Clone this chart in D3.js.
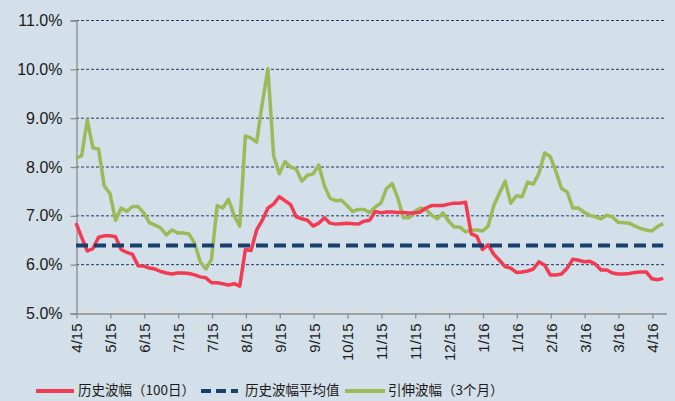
<!DOCTYPE html>
<html>
<head>
<meta charset="utf-8">
<script src="https://cdn.jsdelivr.net/npm/d3@7"></script>
<style>
  body { margin: 0; background: #d3dfe9; }
  svg { display: block; }
</style>
</head>
<body>
<svg id="chart" width="675" height="401"></svg>
<script>
// chart data
var Y_TICKS = [5, 6, 7, 8, 9, 10, 11];
var X_TICK_LABELS = ["4/15", "5/15", "6/15", "7/15", "7/15", "8/15", "9/15", "9/15", "10/15",
    "11/15", "11/15", "12/15", "1/16", "1/16", "2/16", "3/16", "3/16", "4/16"];
var TICK_EVERY = 6; // data points between two x labels

var HIST_VOL = [6.84, 6.55, 6.27, 6.32, 6.55, 6.58, 6.58, 6.56, 6.30, 6.24,
    6.20, 5.97, 5.96, 5.92, 5.90, 5.85, 5.82, 5.80, 5.82, 5.82,
    5.81, 5.78, 5.74, 5.72, 5.62, 5.62, 5.60, 5.57, 5.60, 5.55,
    6.30, 6.28, 6.70, 6.90, 7.15, 7.23, 7.38, 7.30, 7.22, 6.97,
    6.93, 6.90, 6.78, 6.84, 6.95, 6.84, 6.82, 6.83, 6.84, 6.83,
    6.82, 6.88, 6.90, 7.08, 7.05, 7.07, 7.07, 7.06, 7.06, 7.05,
    7.05, 7.07, 7.15, 7.20, 7.20, 7.20, 7.23, 7.25, 7.25, 7.27,
    6.62, 6.57, 6.30, 6.40, 6.20, 6.08, 5.95, 5.92, 5.83, 5.84,
    5.86, 5.90, 6.05, 5.98, 5.78, 5.78, 5.80, 5.92, 6.10, 6.08,
    6.05, 6.06, 6.00, 5.88, 5.88, 5.82, 5.80, 5.80, 5.81, 5.83,
    5.84, 5.84, 5.70, 5.68, 5.71];

var IMPLIED_VOL = [8.17, 8.22, 8.95, 8.38, 8.36, 7.60, 7.45, 6.90, 7.15, 7.08,
    7.18, 7.18, 7.05, 6.85, 6.80, 6.74, 6.60, 6.70, 6.64, 6.64,
    6.62, 6.43, 6.05, 5.90, 6.10, 7.20, 7.15, 7.33, 7.00, 6.78,
    8.63, 8.58, 8.50, 9.30, 10.00, 8.22, 7.85, 8.10, 7.99, 7.95,
    7.70, 7.82, 7.85, 8.03, 7.60, 7.35, 7.30, 7.31, 7.20, 7.08,
    7.12, 7.12, 7.06, 7.17, 7.25, 7.55, 7.65, 7.35, 6.95, 6.95,
    7.08, 7.15, 7.12, 7.00, 6.93, 7.05, 6.88, 6.76, 6.76, 6.66,
    6.70, 6.70, 6.68, 6.78, 7.20, 7.45, 7.70, 7.25, 7.40, 7.38,
    7.68, 7.64, 7.86, 8.28, 8.20, 7.90, 7.55, 7.48, 7.15, 7.15,
    7.06, 7.00, 6.97, 6.93, 7.00, 6.97, 6.86, 6.85, 6.84, 6.78,
    6.73, 6.70, 6.68, 6.77, 6.83];

var AVG_VOL = 6.38;

var LEGEND_NAMES = ["历史波幅（100日）", "历史波幅平均值", "引伸波幅（3个月）"];

// layout
var PLOT = { left: 76, right: 666, top: 20, bottom: 313 };
var RED = "#f23a52";
var NAVY = "#17406d";
var GREEN = "#9bbb59";

var svg = d3.select("#chart");

var xScale = d3.scaleLinear()
    .domain([0, 104.5])
    .range([PLOT.left, PLOT.right]);

var yScale = d3.scaleLinear()
    .domain([5, 11])
    .range([PLOT.bottom, PLOT.top]);

// grid lines
svg.append("g")
    .selectAll("line")
    .data(Y_TICKS.filter(d => d > 5))
    .enter()
    .append("line")
        .attr("x1", PLOT.left)
        .attr("x2", PLOT.right)
        .attr("y1", d => yScale(d) + 0.5)
        .attr("y2", d => yScale(d) + 0.5)
        .attr("stroke", "#1f3b66")
        .attr("stroke-width", 1)
        .attr("stroke-dasharray", "3,2");

// y axis
var yAxis = d3.axisLeft(yScale)
    .tickValues(Y_TICKS)
    .tickSize(6)
    .tickPadding(8)
    .tickFormat(d => d.toFixed(1) + "%");

var yG = svg.append("g")
    .attr("transform", `translate(${PLOT.left + 0.5}, 0.5)`)
    .call(yAxis);

yG.select(".domain").attr("stroke", "#8c8c8c").attr("stroke-width", 1.3);
yG.selectAll(".tick line").attr("stroke", "#8c8c8c").attr("stroke-width", 1.3);
yG.selectAll(".tick text")
    .attr("fill", "#1a1a1a")
    .style("font-family", "'Liberation Sans', Arial, sans-serif")
    .style("font-size", "16px");

// x axis
var xAxis = d3.axisBottom(xScale)
    .tickValues(X_TICK_LABELS.map((d, i) => i * TICK_EVERY))
    .tickSize(5)
    .tickSizeOuter(0)
    .tickFormat((d, i) => X_TICK_LABELS[i]);

var xG = svg.append("g")
    .attr("transform", `translate(0.5, ${PLOT.bottom + 0.5})`)
    .call(xAxis);

xG.select(".domain").attr("stroke", "#8c8c8c").attr("stroke-width", 1.3);
xG.selectAll(".tick line").attr("stroke", "#8c8c8c").attr("stroke-width", 1.3);
xG.selectAll(".tick text")
    .attr("fill", "#1a1a1a")
    .attr("text-anchor", "end")
    .attr("transform", "rotate(-90)")
    .attr("x", -10)
    .attr("y", 0)
    .attr("dy", "0.36em")
    .style("font-family", "'Liberation Sans', Arial, sans-serif")
    .style("font-size", "15px");

// lines
var line = d3.line()
    .x((d, i) => xScale(i))
    .y(d => yScale(d));

svg.append("path")
    .datum(IMPLIED_VOL)
    .attr("fill", "none")
    .attr("stroke", GREEN)
    .attr("stroke-width", 3.5)
    .attr("stroke-linejoin", "round")
    .attr("d", line);

svg.append("path")
    .datum(HIST_VOL)
    .attr("fill", "none")
    .attr("stroke", RED)
    .attr("stroke-width", 3.5)
    .attr("stroke-linejoin", "round")
    .attr("d", line);

svg.append("line")
    .attr("x1", xScale(0))
    .attr("x2", xScale(HIST_VOL.length - 1))
    .attr("y1", yScale(AVG_VOL))
    .attr("y2", yScale(AVG_VOL))
    .attr("stroke", NAVY)
    .attr("stroke-width", 4)
    .attr("stroke-dasharray", "12,6");

// legend
var legendItems = [
    { name: LEGEND_NAMES[0], color: RED, dash: null, x1: 36, x2: 74, tx: 78 },
    { name: LEGEND_NAMES[1], color: NAVY, dash: "10,5", x1: 201, x2: 238, tx: 245 },
    { name: LEGEND_NAMES[2], color: GREEN, dash: null, x1: 345, x2: 385, tx: 388 }
];

var legend = svg.append("g");
legend.selectAll("line")
    .data(legendItems)
    .enter()
    .append("line")
        .attr("x1", d => d.x1)
        .attr("x2", d => d.x2)
        .attr("y1", 391)
        .attr("y2", 391)
        .attr("stroke", d => d.color)
        .attr("stroke-width", 4)
        .attr("stroke-dasharray", d => d.dash);

legend.selectAll("text")
    .data(legendItems)
    .enter()
    .append("text")
        .attr("x", d => d.tx)
        .attr("y", 395)
        .attr("fill", "#1a1a1a")
        .style("font-family", "'Noto Sans CJK SC', sans-serif")
        .style("font-size", "13.5px")
        .text(d => d.name);
</script>
</body>
</html>
